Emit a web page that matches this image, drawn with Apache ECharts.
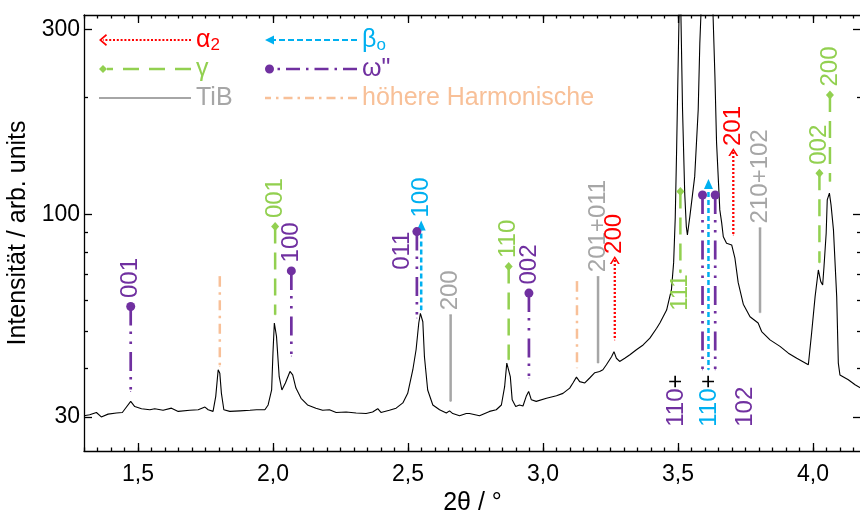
<!DOCTYPE html>
<html><head><meta charset="utf-8">
<script src="https://cdn.jsdelivr.net/npm/echarts@6/dist/echarts.min.js"></script>
<style>html,body{margin:0;padding:0;background:#fff}#c{width:860px;height:510px}</style>
</head><body><div id="c"></div>
<script>
// ---------------- data ----------------
const twoTheta = [1.300,1.321,1.346,1.364,1.389,1.420,1.442,1.451,1.473,1.488,1.513,1.544,1.562,1.593,1.624,1.649,1.692,1.723,1.748,1.760,1.778,1.788,1.797,1.803,1.809,1.818,1.840,1.878,1.915,1.939,1.970,1.982,1.995,2.000,2.005,2.013,2.023,2.033,2.046,2.063,2.073,2.085,2.104,2.128,2.159,2.184,2.209,2.234,2.271,2.308,2.345,2.369,2.388,2.400,2.431,2.456,2.481,2.499,2.518,2.530,2.540,2.546,2.555,2.561,2.573,2.592,2.617,2.642,2.654,2.666,2.691,2.716,2.728,2.765,2.802,2.827,2.846,2.858,2.866,2.873,2.879,2.886,2.899,2.913,2.926,2.938,2.947,2.957,2.975,3.013,3.050,3.074,3.099,3.111,3.124,3.136,3.155,3.173,3.192,3.210,3.222,3.235,3.254,3.263,3.272,3.284,3.303,3.322,3.346,3.371,3.396,3.421,3.433,3.458,3.476,3.484,3.490,3.495,3.501,3.504,3.507,3.511,3.517,3.525,3.531,3.535,3.544,3.562,3.575,3.581,3.585,3.596,3.607,3.620,3.630,3.637,3.643,3.655,3.662,3.668,3.680,3.699,3.711,3.723,3.742,3.767,3.797,3.810,3.841,3.878,3.909,3.940,3.983,3.995,4.008,4.020,4.029,4.036,4.041,4.049,4.053,4.061,4.067,4.076,4.088,4.094,4.100,4.131,4.156,4.178];
const intensity = [30.2,30.4,30.8,30.0,30.5,30.7,30.8,31.4,32.9,31.9,31.5,31.3,31.5,31.2,31.6,31.0,31.2,31.3,31.8,31.3,31.0,33.9,39.7,38.9,34.5,31.3,31.0,31.1,31.2,31.3,31.3,32.2,35.2,44.0,52.4,48.4,38.1,35.2,36.7,39.3,38.5,35.6,33.5,32.2,31.6,31.2,31.3,30.8,30.9,30.7,30.6,30.9,31.5,30.8,31.2,31.6,32.6,34.5,39.7,44.7,52.4,55.5,52.8,42.9,35.2,32.2,31.3,30.7,31.1,30.6,30.2,30.6,30.6,30.2,31.0,31.3,32.2,35.9,41.3,41.7,38.1,33.2,31.9,32.2,32.0,33.9,34.9,33.2,32.9,33.5,34.0,34.5,35.6,36.7,38.0,37.0,36.7,37.8,39.0,39.3,39.7,40.9,42.9,44.2,42.5,41.7,42.5,43.4,44.7,46.0,47.9,50.8,52.4,56.6,64.0,75.0,98.0,146,250,326,600,326,186,113.5,92.9,88.4,98.6,125,186,276,326,700,800,700,326,226,153,102.6,95.0,87.5,84.2,83.3,77.0,66.7,58.6,54.4,52.4,49.8,47.4,45.6,43.8,42.5,40.9,49.3,61.3,71.8,67.0,65.7,73.3,89.3,108.9,113.3,105.7,91.1,61.3,41.3,38.5,37.4,36.3,35.6];

// axis ticks / labels
const xTickLabels = [1.5, 2.0, 2.5, 3.0, 3.5, 4.0];
const yTickLabels = [30, 100, 300];
const yMinorTicks = [40, 50, 60, 70, 80, 90, 200];

// annotation lines (2θ position, upper end, lower end, hkl label)
const omegaPos = [1.473, 2.068, 2.533, 2.948, 3.591, 3.638];
const omegaTop = [57.8, 71.4, 90.2, 62.6, 112.1, 112.1];
const omegaBottom = [34.9, 43.1, 54.0, 37.8, 39.7, 39.7];
const omegaHkl = ['001', '100', '011', '002', '110{k|+}', '102'];

const gammaPos = [2.008, 2.873, 3.509, 4.024, 4.063];
const gammaTop = [92.9, 73.3, 114.4, 127.5, 203.0];
const gammaBottom = [55.0, 42.1, 70.6, 74.9, 121.4];
const gammaHkl = ['001', '110', '111', '002', '200'];

const betaPos = [2.549, 3.613];
const betaTop = [93.5, 119.7];
const betaBottom = [56.6, 39.7];
const betaHkl = ['100', '110{k|+}'];

const alphaPos = [3.266, 3.705];
const alphaTop = [76.2, 144.7];
const alphaBottom = [47.4, 88.4];
const alphaHkl = ['200', '201'];

const tibPos = [2.658, 3.204, 3.804];
const tibTop = [55.0, 69.0, 92.2];
const tibBottom = [32.9, 41.3, 55.7];
const tibHkl = ['200', '201+011', '210+102'];

const harmPos = [1.803, 3.126];
const harmTop = [69.0, 67.0];
const harmBottom = [40.5, 40.1];

const legendNames = ['α2', 'βo', 'γ', 'ω"', 'TiB', 'höhere Harmonische'];

// ---------------- styling ----------------
const FONT = "'Liberation Sans', Arial, sans-serif";
const X_MIN = 1.3, X_MAX = 4.178, Y_MIN = 24.5, Y_MAX = 326.5;
const C = {alpha:'#ff0000', beta:'#00b0f0', gamma:'#92d050', omega:'#7030a0', tib:'#a6a6a6', harm:'#f8c098'};
const CHEVRON_UP = 'path://M0,8 L5,0 L10,8 L8.2,8 L5,2.9 L1.8,8 Z';

const sets = [
  {key:'harm', name:'höhere Harmonische', color:C.harm, pos:harmPos, top:harmTop, bot:harmBottom, hkl:null,
   dash:[10,5.5,2.5,5.5], width:2.5, symbol:'rect', size:[2.5,1], gap:4},
  {key:'tib', name:'TiB', color:C.tib, pos:tibPos, top:tibTop, bot:tibBottom, hkl:tibHkl,
   dash:'solid', width:2.5, symbol:'rect', size:[2.5,1], gap:4},
  {key:'gamma', name:'γ', color:C.gamma, pos:gammaPos, top:gammaTop, bot:gammaBottom, hkl:gammaHkl,
   dash:[17,9], width:2.5, symbol:'diamond', size:[8,9], gap:4},
  {key:'alpha', name:'α2', color:C.alpha, pos:alphaPos, top:alphaTop, bot:alphaBottom, hkl:alphaHkl,
   dash:[2,2], width:2.3, symbol:CHEVRON_UP, size:[10,8], gap:2},
  {key:'beta', name:'βo', color:C.beta, pos:betaPos, top:betaTop, bot:betaBottom, hkl:betaHkl,
   dash:[5,3], width:2.5, symbol:'triangle', size:[9,10], gap:3},
  {key:'omega', name:'ω"', color:C.omega, pos:omegaPos, top:omegaTop, bot:omegaBottom, hkl:omegaHkl,
   dash:[19,6,2.5,7.5,2.5,8], width:2.7, symbol:'circle', size:[9,9], gap:4}
];
// special label placements (pixel offsets are pure layout)
const labelPlace = {
  'omega-2': {type:'left'},
  'omega-4': {type:'under', dx:-26, dy:57},
  'omega-5': {type:'under', dx:30, dy:57},
  'beta-1': {type:'under', dx:1, dy:57},
  'gamma-2': {type:'below'}
};

function makeLabel(text, color, cfg, gap) {
  const l = {show:true, formatter:text, color, fontSize:24, fontFamily:FONT, rotate:90,
    rich:{k:{color:'#000', fontSize:24, fontFamily:FONT}}};
  if (cfg.type === 'top') Object.assign(l, {position:'top', distance:gap, align:'left', verticalAlign:'middle'});
  else if (cfg.type === 'left') Object.assign(l, {position:'left', distance:-2, align:'right', verticalAlign:'bottom'});
  else if (cfg.type === 'below') Object.assign(l, {position:'bottom', distance:1, align:'right', verticalAlign:'middle'});
  else if (cfg.type === 'under') Object.assign(l, {position:[cfg.dx + 0.5, cfg.dy + 0.5], align:'left', verticalAlign:'middle'});
  return l;
}

const series = [{
  type:'line', name:'curve', data: twoTheta.map((x, i) => [x, intensity[i]]),
  symbol:'none', lineStyle:{color:'#000', width:1.1}, itemStyle:{color:'#000'},
  z:2, clip:true, silent:true, animation:false
}];

sets.forEach(s => {
  s.pos.forEach((x, i) => {
    const cfg = labelPlace[s.key + '-' + i] || {type:'top'};
    const topPt = {value:[x, s.top[i]], symbol:s.symbol, symbolSize:s.size};
    const botPt = {value:[x, s.bot[i]], symbol:'circle', symbolSize:1};
    if (s.hkl) {
      const lab = makeLabel(s.hkl[i], s.color, cfg, s.gap);
      if (cfg.type === 'top' || cfg.type === 'left') topPt.label = lab; else botPt.label = lab;
    }
    series.push({
      type:'line', name:s.name, data:[topPt, botPt], showSymbol:true, showAllSymbol:true,
      color:s.color, itemStyle:{color:s.color},
      lineStyle:{color:s.color, width:s.width, type:s.dash, cap:'butt'},
      z:3, silent:true, animation:false, clip:false
    });
  });
});

// ---------------- legend icons (pure styling) ----------------
function rect(x, y, w, h) { return `M${x.toFixed(2)},${y} h${w.toFixed(2)} v${h} h${(-w).toFixed(2)} Z `; }
function patternBack(x0, x1, pat, h) {
  let p = '', x = x1, k = 0;
  while (x > x0 + 0.5) {
    const len = pat[k % pat.length];
    if (k % 2 === 0) { const w = Math.min(len, x - x0); p += rect(x - w, 6 - h / 2, w, h); }
    x -= len; k++;
  }
  return p;
}
const W = 92;
const legendIcons = {
  'α2': 'path://M0,6 L7,0 L8,1.6 L2.6,6 L8,10.4 L7,12 Z ' + patternBack(4, W, [2,1.8], 2),
  'βo': 'path://M0,6 L9,1.5 L9,10.5 Z ' + patternBack(9, W, [6,3], 2),
  'γ': 'path://M0,6 L4,2 L8,6 L4,10 Z ' + patternBack(8, W, [16,10], 2.4),
  'ω"': 'path://M0,6 A4.5,4.5 0 1,1 9,6 A4.5,4.5 0 1,1 0,6 Z ' + patternBack(9, W, [14,6,2.5,6], 2.6),
  'TiB': 'path://' + rect(0, 5, W, 2),
  'höhere Harmonische': 'path://' + patternBack(0, W, [9,5,2.5,5], 2.4)
};
const legendColors = {'α2':C.alpha, 'βo':C.beta, 'γ':C.gamma, 'ω"':C.omega, 'TiB':C.tib, 'höhere Harmonische':C.harm};
function legendItem(n) {
  return {name:n, icon:legendIcons[n], itemStyle:{color:legendColors[n], borderWidth:0},
          textStyle:{color:legendColors[n]}};
}
const legendRich = {
  m:{fontSize:25, lineHeight:28, fontFamily:FONT},
  s:{fontSize:17, lineHeight:10, verticalAlign:'bottom', fontFamily:FONT}
};
function legendFmt(n) {
  if (n === 'α2') return '{m|α}{s|2}';
  if (n === 'βo') return '{m|β}{s|o}';
  return '{m|' + n + '}';
}
const legendBase = {orient:'vertical', top:26, itemGap:1, padding:0, itemWidth:W, itemHeight:12,
  selectedMode:false, symbolKeepAspect:true, formatter:legendFmt,
  textStyle:{fontSize:25, lineHeight:28, fontFamily:FONT, rich:legendRich},
  itemStyle:{borderWidth:0}};

// ---------------- axes ----------------
const xMinor = [];
for (let k = 26; k * 0.05 <= X_MAX + 1e-9; k++) xMinor.push(Math.round(k * 5) / 100);
const axisLineStyle = {color:'#000', width:1.3};
function xAx(gridIndex, position, major, showLine) {
  return {type:'value', gridIndex, position, min:X_MIN, max:X_MAX,
    axisLine:{show:showLine, onZero:false, lineStyle:axisLineStyle},
    axisTick:{show:true, inside:true, length: major ? 8 : 3.5, customValues: major ? xTickLabels : xMinor, lineStyle:axisLineStyle},
    axisLabel: (major && position === 'bottom') ? {show:true, customValues:xTickLabels, fontSize:23, fontFamily:FONT, color:'#000', margin:12,
        formatter: v => v.toFixed(1).replace('.', ',')} : {show:false},
    splitLine:{show:false}, minorTick:{show:false},
    name: (major && position === 'bottom') ? '2θ / °' : '', nameLocation:'middle', nameGap:33,
    nameTextStyle:{fontSize:25, fontFamily:FONT, color:'#000'}};
}
function yAx(gridIndex, position, major, showLine) {
  return {type:'log', logBase:10, gridIndex, position, min:Y_MIN, max:Y_MAX,
    axisLine:{show:showLine, onZero:false, lineStyle:axisLineStyle},
    axisTick:{show:true, inside:true, length: major ? 8 : 4, customValues: major ? yTickLabels : yMinorTicks, lineStyle:axisLineStyle},
    axisLabel: (major && position === 'left') ? {show:true, customValues:yTickLabels, fontSize:23, fontFamily:FONT, color:'#000', margin:4} : {show:false},
    splitLine:{show:false}, minorTick:{show:false},
    name: (major && position === 'left') ? 'Intensität / arb. units' : '', nameLocation:'middle', nameGap:47,
    nameTextStyle:{fontSize:25, fontFamily:FONT, color:'#000'}};
}
const gridRect = {left:84, top:15, width:777, height:436, containLabel:false, outerBoundsMode:'none'};

const option = {
  animation:false,
  backgroundColor:'#fff',
  grid:[Object.assign({}, gridRect), Object.assign({}, gridRect)],
  xAxis:[xAx(0,'bottom',true,true), xAx(0,'top',true,true), xAx(1,'bottom',false,false), xAx(1,'top',false,false)],
  yAxis:[yAx(0,'left',true,true), yAx(0,'right',true,true), yAx(1,'left',false,false), yAx(1,'right',false,false)],
  legend:[
    Object.assign({}, legendBase, {left:99, data:['α2','γ','TiB'].map(legendItem)}),
    Object.assign({}, legendBase, {left:265, data:['βo','ω"','höhere Harmonische'].map(legendItem)})
  ],
  series
};
const chart = echarts.init(document.getElementById('c'), null, {renderer:'canvas'});
chart.setOption(option);
</script>
</body></html>
